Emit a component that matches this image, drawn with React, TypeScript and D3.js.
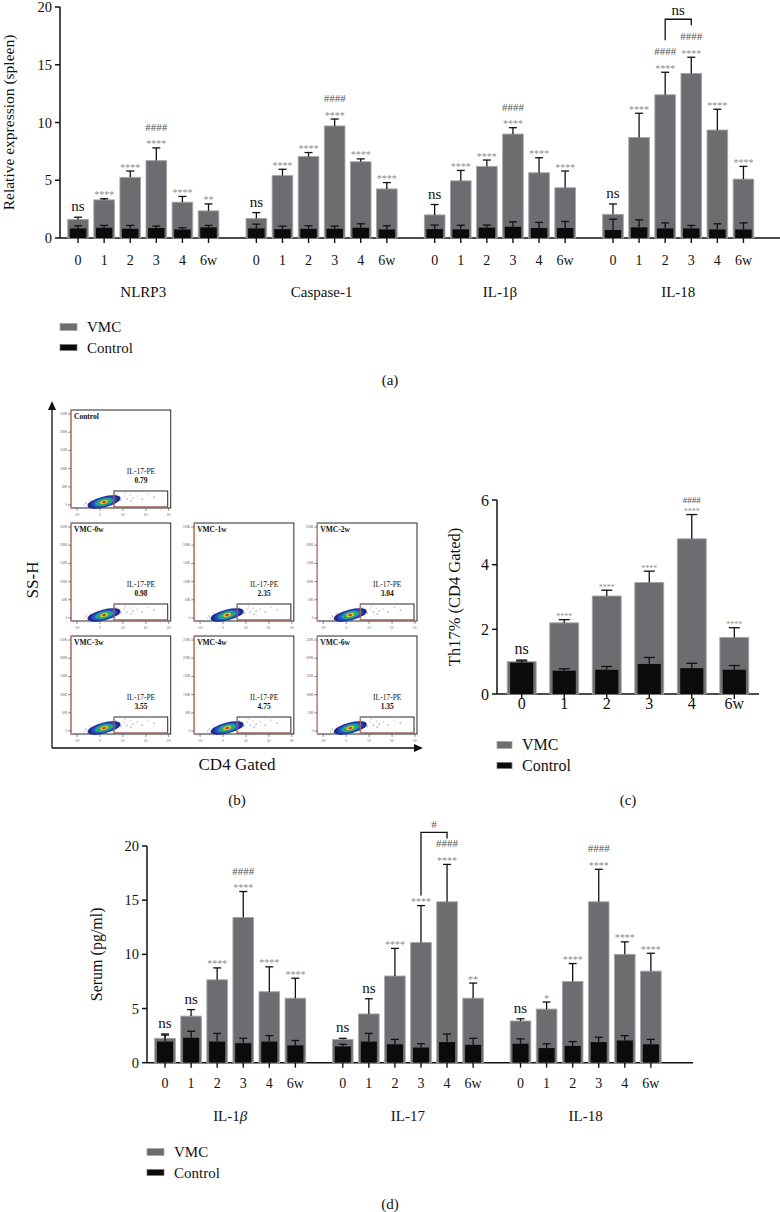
import React from 'react';
import * as d3 from 'd3';

const weeks = ['0', '1', '2', '3', '4', '6w'];

// (a) relative expression in spleen
const genesA = ['NLRP3', 'Caspase-1', 'IL-1β', 'IL-18'];
const vmcA = [
  [1.6, 3.3, 5.25, 6.7, 3.1, 2.35],
  [1.7, 5.4, 7.05, 9.7, 6.6, 4.25],
  [2.0, 4.95, 6.2, 9.0, 5.65, 4.35],
  [2.05, 8.7, 12.4, 14.25, 9.35, 5.1],
];
const vmcErrA = [
  [0.2, 0.1, 0.55, 1.1, 0.5, 0.6],
  [0.5, 0.55, 0.35, 0.6, 0.25, 0.55],
  [0.9, 0.9, 0.55, 0.55, 1.3, 1.45],
  [0.9, 2.1, 1.95, 1.4, 1.8, 1.1],
];
const ctrlA = [
  [0.83, 0.89, 0.8, 0.86, 0.74, 0.92],
  [0.83, 0.77, 0.8, 0.8, 0.89, 0.74],
  [0.77, 0.75, 0.9, 0.97, 0.86, 0.86],
  [0.69, 0.92, 0.83, 0.83, 0.74, 0.74],
];
const ctrlErrA = [
  [0.23, 0.2, 0.29, 0.17, 0.15, 0.17],
  [0.37, 0.26, 0.26, 0.23, 0.34, 0.32],
  [0.35, 0.35, 0.22, 0.43, 0.49, 0.57],
  [0.94, 0.65, 0.48, 0.26, 0.49, 0.57],
];
const starsA = [
  ['ns', '****', '****', '****', '****', '**'],
  ['ns', '****', '****', '****', '****', '****'],
  ['ns', '****', '****', '****', '****', '****'],
  ['ns', '****', '****', '****', '****', '****'],
];
const hashA = [
  ['', '', '', '####', '', ''],
  ['', '', '', '####', '', ''],
  ['', '', '', '####', '', ''],
  ['', '', '####', '####', '', ''],
];
const bracketA = { group: 'IL-18', from: '2', to: '3', label: 'ns' };

// (b) flow cytometry
const flowTitles = ['Control', 'VMC-0w', 'VMC-1w', 'VMC-2w', 'VMC-3w', 'VMC-4w', 'VMC-6w'];
const flowValues = ['0.79', '0.98', '2.35', '3.04', '3.55', '4.75', '1.35'];
const flowRow = [0, 1, 1, 1, 2, 2, 2];
const flowCol = [0, 0, 1, 2, 0, 1, 2];
const flowYTicks = ['0', '50K', '100K', '150K', '200K', '250K'];
const flowXTicks = ['-10³', '0', '10³', '10⁴', '10⁵'];

// (c) Th17 %
const vmcC = [1.0, 2.2, 3.03, 3.45, 4.8, 1.75];
const vmcErrC = [0.05, 0.1, 0.18, 0.35, 0.75, 0.3];
const ctrlC = [0.97, 0.72, 0.75, 0.93, 0.8, 0.75];
const ctrlErrC = [0.05, 0.06, 0.1, 0.2, 0.15, 0.13];
const starsC = ['ns', '****', '****', '****', '****', '****'];
const hashC = ['', '', '', '', '####', ''];

// (d) serum
const cytoD = ['IL-1β', 'IL-17', 'IL-18'];
const vmcD = [
  [2.25, 4.3, 7.65, 13.4, 6.55, 5.95],
  [2.15, 4.5, 8.0, 11.1, 14.85, 5.95],
  [3.85, 4.95, 7.5, 14.85, 10.0, 8.45],
];
const vmcErrD = [
  [0.4, 0.6, 1.1, 2.4, 2.3, 1.85],
  [0.1, 1.4, 2.55, 3.4, 3.45, 1.4],
  [0.2, 0.65, 1.65, 3.0, 1.15, 1.65],
];
const ctrlD = [
  [1.95, 2.3, 1.95, 1.8, 1.95, 1.6],
  [1.5, 1.95, 1.7, 1.4, 1.9, 1.65],
  [1.75, 1.35, 1.55, 1.9, 2.05, 1.7],
];
const ctrlErrD = [
  [0.6, 0.6, 0.75, 0.45, 0.55, 0.45],
  [0.2, 0.75, 0.45, 0.35, 0.75, 0.6],
  [0.45, 0.4, 0.4, 0.45, 0.45, 0.45],
];
const starsD = [
  ['ns', 'ns', '****', '****', '****', '****'],
  ['ns', 'ns', '****', '****', '****', '**'],
  ['ns', '*', '****', '****', '****', '****'],
];
const hashD = [
  ['', '', '', '####', '', ''],
  ['', '', '', '', '####', ''],
  ['', '', '', '####', '', ''],
];
const bracketD = { group: 'IL-17', from: '3', to: '4', label: '#' };

const FONT = '"Liberation Serif", "Times New Roman", serif';
const VMC_FILL = '#6c6d71';
const VMC_EDGE = '#a5a6a8';
const CTRL_FILL = '#0b0b0b';
const STAR = '#8c8c8c';
const HASH = '#555';
const INK = '#111';

function Bars({ centers, bw, cw, y, vmc, vmcErr, ctrl, ctrlErr, stars, hashes, cap, starFs, hashFs, hashOff, nsFs }: any) {
  const y0 = y(0);
  return (
    <g>
      {centers.map((x: number, i: number) => {
        const vTop = y(vmc[i]);
        const vCap = y(vmc[i] + vmcErr[i]);
        const cTop = y(ctrl[i]);
        const cCap = y(ctrl[i] + ctrlErr[i]);
        const top = Math.min(vCap, cCap);
        const s = stars[i];
        return (
          <g key={i}>
            <rect x={x - bw / 2} y={vTop} width={bw} height={y0 - vTop} fill={VMC_FILL} stroke={VMC_EDGE} strokeWidth={0.9} />
            <line x1={x} x2={x} y1={vTop} y2={vCap} stroke={INK} strokeWidth={1.3} />
            <line x1={x - cap / 2} x2={x + cap / 2} y1={vCap} y2={vCap} stroke={INK} strokeWidth={1.3} />
            <rect x={x - cw / 2} y={cTop} width={cw} height={y0 - cTop} fill={CTRL_FILL} />
            <line x1={x} x2={x} y1={cTop} y2={cCap} stroke={INK} strokeWidth={1.3} />
            <line x1={x - cap / 2} x2={x + cap / 2} y1={cCap} y2={cCap} stroke={INK} strokeWidth={1.3} />
            {s === 'ns' ? (
              <text x={x} y={top - 6} fontSize={nsFs} textAnchor="middle" fill={INK}>ns</text>
            ) : (
              <text x={x} y={top - 0.5} fontSize={starFs} textAnchor="middle" fill={STAR}>{s}</text>
            )}
            {hashes[i] && (
              <text x={x} y={top - hashOff} fontSize={hashFs} textAnchor="middle" fill={HASH}>{hashes[i]}</text>
            )}
          </g>
        );
      })}
    </g>
  );
}

function Bracket({ x1, x2, e1, e2, label, fs, color }: any) {
  const yb = Math.min(e1, e2) - 6;
  return (
    <g>
      <path d={`M${x1},${e1}V${yb}H${x2}V${e2}`} fill="none" stroke={INK} strokeWidth={1.3} />
      <text x={(x1 + x2) / 2} y={yb - 4} fontSize={fs} textAnchor="middle" fill={color}>{label}</text>
    </g>
  );
}

function Legend({ x, y, fs, sw }: any) {
  return (
    <g fontSize={fs} fill={INK}>
      <rect x={x} y={y - 3.5} width={sw} height={7} fill={VMC_FILL} stroke={VMC_EDGE} strokeWidth={0.8} />
      <text x={x + sw + 10} y={y + 5}>VMC</text>
      <rect x={x} y={y + 17.5} width={sw} height={6} fill={CTRL_FILL} stroke="#777" strokeWidth={0.8} />
      <text x={x + sw + 10} y={y + 26}>Control</text>
    </g>
  );
}

function YAxis({ x, y, ticks, fs }: any) {
  const [r0, r1] = y.range();
  return (
    <g>
      <line x1={x} x2={x} y1={r0} y2={r1} stroke={INK} strokeWidth={1.5} />
      {ticks.map((t: number) => (
        <g key={t}>
          <line x1={x - 5} x2={x} y1={y(t)} y2={y(t)} stroke={INK} strokeWidth={1.5} />
          <text x={x - 8} y={y(t) + fs * 0.35} fontSize={fs} textAnchor="end" fill={INK}>{t}</text>
        </g>
      ))}
    </g>
  );
}

// decorative scatter around the dense event cloud (offsets)
const sparseDx = [-18, -14, -11, 14, 17, 20, 23, 26, 29, 33, 38, 44, 50, -20, 12, 21, 27];
const sparseDy = [1, -2, 2, -5, -2, -6, -3, -7, -4, -6, -3, -8, -5, 3, -7, -9, -1];
const cloudLayers = [
  { rx: 17, ry: 5.5, c: '#1d2b8f' },
  { rx: 13, ry: 4.6, c: '#2a50c0' },
  { rx: 9.5, ry: 3.6, c: '#1c9fb0' },
  { rx: 6.8, ry: 2.8, c: '#2fae4a' },
  { rx: 4, ry: 1.9, c: '#d8d23a' },
  { rx: 2.2, ry: 1.1, c: '#e0342c' },
];

function FlowPlot({ x, y, w, h, title, value }: any) {
  const bottom = y + h;
  const yt = d3.scaleLinear().domain([0, flowYTicks.length - 1]).range([bottom - 3, y + 4]);
  const xt = d3.scaleLinear().domain([0, flowXTicks.length - 1]).range([x + 6, x + w - 2]);
  const cx = x + 33;
  const cy = bottom - 6;
  const gx = x + 43;
  return (
    <g>
      <rect x={x} y={y} width={w} height={h} fill="#fff" stroke={INK} strokeWidth={0.9} />
      <line x1={x} x2={x} y1={y} y2={bottom} stroke="#de8877" strokeWidth={1.3} />
      {d3.range(y + 2, bottom, 3.2).map((v) => (
        <line key={v} x1={x - 1.5} x2={x} y1={v} y2={v} stroke="#999" strokeWidth={0.4} />
      ))}
      {flowYTicks.map((t, k) => (
        <g key={t}>
          <line x1={x - 3} x2={x} y1={yt(k)} y2={yt(k)} stroke="#444" strokeWidth={0.6} />
          <text x={x - 4} y={yt(k) + 1} fontSize={3.2} textAnchor="end" fill="#555">{t}</text>
        </g>
      ))}
      {d3.range(x + 2, x + w, 3.5).map((v) => (
        <line key={v} x1={v} x2={v} y1={bottom} y2={bottom + 1.5} stroke="#999" strokeWidth={0.4} />
      ))}
      {flowXTicks.map((t, k) => (
        <g key={t}>
          <line x1={xt(k)} x2={xt(k)} y1={bottom} y2={bottom + 3} stroke="#444" strokeWidth={0.6} />
          <text x={xt(k)} y={bottom + 8} fontSize={3.2} textAnchor="middle" fill="#555">{t}</text>
        </g>
      ))}
      {sparseDx.map((dx, k) => (
        <circle key={k} cx={cx + dx} cy={cy + sparseDy[k]} r={0.6} fill={k % 2 ? '#e46fa0' : '#2a3fbf'} />
      ))}
      <g transform={`translate(${cx},${cy}) rotate(-14)`}>
        {cloudLayers.map((l) => (
          <ellipse key={l.c} rx={l.rx} ry={l.ry} fill={l.c} />
        ))}
      </g>
      <rect x={gx} y={bottom - 17} width={x + w - 3 - gx} height={16} fill="none" stroke={INK} strokeWidth={0.9} />
      <path d={`M${gx},${bottom - 17}V${bottom - 1}H${x + w - 3}`} fill="none" stroke="#de8877" strokeWidth={0.9} />
      <text x={x + 3} y={y + 9} fontSize={7.5} fontWeight="bold" fill={INK}>{title}</text>
      <text x={x + 70} y={y + 64} fontSize={7.5} textAnchor="middle" fill={INK}>IL-17-PE</text>
      <text x={x + 70} y={y + 73} fontSize={7.5} textAnchor="middle" fontWeight="bold" fill={INK}>{value}</text>
    </g>
  );
}

export default function App() {
  // panel (a)
  const yA = d3.scaleLinear().domain([0, 20]).range([238, 7]);
  const gA = d3.scaleBand<string>().domain(genesA).range([65, 756.5]).paddingInner(0.122);
  const wA = d3.scaleBand<string>().domain(weeks).range([0, gA.bandwidth()]).paddingInner(0.21).paddingOuter(0.105);
  const cxA = (g: string, w: string) => (gA(g) as number) + (wA(w) as number) + wA.bandwidth() / 2;

  // panel (c)
  const yC = d3.scaleLinear().domain([0, 6]).range([694, 500]);
  const xC = d3.scaleBand<string>().domain(weeks).range([497, 759]).paddingInner(0.32).paddingOuter(0.241);
  const cxC = (w: string) => (xC(w) as number) + xC.bandwidth() / 2;

  // panel (d)
  const yD = d3.scaleLinear().domain([0, 20]).range([1062.7, 846]);
  const gD = d3.scaleBand<string>().domain(cytoD).range([152, 663.9]).paddingInner(0.12);
  const wD = d3.scaleBand<string>().domain(weeks).range([0, gD.bandwidth()]).paddingInner(0.21).paddingOuter(0.105);
  const cxD = (g: string, w: string) => (gD(g) as number) + (wD(w) as number) + wD.bandwidth() / 2;

  // panel (b) grid
  const colB = d3.scaleBand<number>().domain([0, 1, 2]).range([71, 417]).paddingInner(0.19);
  const rowB = d3.scaleBand<number>().domain([0, 1, 2]).range([410, 734]).paddingInner(0.133);

  const legEnd = (y: any, v: number[], ve: number[], c: number[], ce: number[], hs: string[], i: number, big: number, small: number) =>
    Math.min(y(v[i] + ve[i]), y(c[i] + ce[i])) - (hs[i] ? big : small);

  const ia = genesA.indexOf(bracketA.group);
  const fa = weeks.indexOf(bracketA.from);
  const ta = weeks.indexOf(bracketA.to);
  const id = cytoD.indexOf(bracketD.group);
  const fd = weeks.indexOf(bracketD.from);
  const td = weeks.indexOf(bracketD.to);

  return (
    <svg
      width={780}
      height={1212}
      viewBox="0 0 780 1212"
      style={{ position: 'absolute', left: 0, top: 0, background: '#fff' }}
      fontFamily={FONT}
      fill={INK}
    >
      {/* ---------- (a) ---------- */}
      <text transform={`translate(14,${(yA(0) + yA(20)) / 2}) rotate(-90)`} fontSize={15.5} textAnchor="middle">
        Relative expression (spleen)
      </text>
      <YAxis x={60} y={yA} ticks={[0, 5, 10, 15, 20]} fs={14.5} />
      <line x1={60} x2={780} y1={yA(0)} y2={yA(0)} stroke={INK} strokeWidth={1.5} />
      {genesA.map((g, gi) => (
        <g key={g}>
          <Bars
            centers={weeks.map((w) => cxA(g, w))}
            bw={wA.bandwidth()}
            cw={wA.bandwidth() * 0.8}
            y={yA}
            vmc={vmcA[gi]}
            vmcErr={vmcErrA[gi]}
            ctrl={ctrlA[gi]}
            ctrlErr={ctrlErrA[gi]}
            stars={starsA[gi]}
            hashes={hashA[gi]}
            cap={8}
            starFs={10}
            hashFs={11}
            hashOff={17}
            nsFs={15}
          />
          {weeks.map((w) => (
            <g key={w}>
              <line x1={cxA(g, w)} x2={cxA(g, w)} y1={yA(0)} y2={yA(0) + 5} stroke={INK} strokeWidth={1.4} />
              <text x={cxA(g, w)} y={265} fontSize={14} textAnchor="middle">{w}</text>
            </g>
          ))}
          <text x={(gA(g) as number) + gA.bandwidth() / 2} y={297} fontSize={15} textAnchor="middle">{g}</text>
        </g>
      ))}
      <Bracket
        x1={cxA(bracketA.group, bracketA.from)}
        x2={cxA(bracketA.group, bracketA.to)}
        e1={legEnd(yA, vmcA[ia], vmcErrA[ia], ctrlA[ia], ctrlErrA[ia], hashA[ia], fa, 32, 10)}
        e2={legEnd(yA, vmcA[ia], vmcErrA[ia], ctrlA[ia], ctrlErrA[ia], hashA[ia], ta, 32, 10)}
        label={bracketA.label}
        fs={15}
        color={INK}
      />
      <Legend x={60} y={327} fs={15} sw={17} />
      <text x={390} y={385} fontSize={15} textAnchor="middle">(a)</text>

      {/* ---------- (b) ---------- */}
      <line x1={52} x2={52} y1={748} y2={408} stroke={INK} strokeWidth={1.3} />
      <path d="M52,401L48,410L56,410Z" fill={INK} />
      <line x1={52} x2={415} y1={748} y2={748} stroke={INK} strokeWidth={1.3} />
      <path d="M423,748L414,744L414,752Z" fill={INK} />
      {flowTitles.map((t, k) => (
        <FlowPlot
          key={t}
          x={colB(flowCol[k])}
          y={rowB(flowRow[k])}
          w={colB.bandwidth()}
          h={rowB.bandwidth()}
          title={t}
          value={flowValues[k]}
        />
      ))}
      <text transform="translate(38,580) rotate(-90)" fontSize={17} textAnchor="middle">SS-H</text>
      <text x={237} y={770} fontSize={17} textAnchor="middle">CD4 Gated</text>
      <text x={237} y={805} fontSize={15} textAnchor="middle">(b)</text>

      {/* ---------- (c) ---------- */}
      <text transform={`translate(460,${(yC(0) + yC(6)) / 2}) rotate(-90)`} fontSize={16.5} textAnchor="middle">
        Th17% (CD4 Gated)
      </text>
      <YAxis x={497} y={yC} ticks={[0, 2, 4, 6]} fs={16} />
      <line x1={497} x2={759} y1={yC(0)} y2={yC(0)} stroke={INK} strokeWidth={1.5} />
      <Bars
        centers={weeks.map(cxC)}
        bw={xC.bandwidth()}
        cw={xC.bandwidth() * 0.8}
        y={yC}
        vmc={vmcC}
        vmcErr={vmcErrC}
        ctrl={ctrlC}
        ctrlErr={ctrlErrC}
        stars={starsC}
        hashes={hashC}
        cap={11}
        starFs={8}
        hashFs={9}
        hashOff={12}
        nsFs={16}
      />
      {weeks.map((w) => (
        <g key={w}>
          <line x1={cxC(w)} x2={cxC(w)} y1={yC(0)} y2={yC(0) + 5} stroke={INK} strokeWidth={1.4} />
          <text x={cxC(w)} y={709} fontSize={16} textAnchor="middle">{w}</text>
        </g>
      ))}
      <Legend x={497} y={745} fs={16} sw={15} />
      <text x={628} y={805} fontSize={15} textAnchor="middle">(c)</text>

      {/* ---------- (d) ---------- */}
      <text transform={`translate(102,${(yD(0) + yD(20)) / 2}) rotate(-90)`} fontSize={16} textAnchor="middle">
        Serum (pg/ml)
      </text>
      <YAxis x={147} y={yD} ticks={[0, 5, 10, 15, 20]} fs={14.5} />
      <line x1={147} x2={693} y1={yD(0)} y2={yD(0)} stroke={INK} strokeWidth={1.5} />
      {cytoD.map((g, gi) => (
        <g key={g}>
          <Bars
            centers={weeks.map((w) => cxD(g, w))}
            bw={wD.bandwidth()}
            cw={wD.bandwidth() * 0.78}
            y={yD}
            vmc={vmcD[gi]}
            vmcErr={vmcErrD[gi]}
            ctrl={ctrlD[gi]}
            ctrlErr={ctrlErrD[gi]}
            stars={starsD[gi]}
            hashes={hashD[gi]}
            cap={8}
            starFs={10}
            hashFs={11}
            hashOff={17}
            nsFs={15}
          />
          {weeks.map((w) => (
            <g key={w}>
              <line x1={cxD(g, w)} x2={cxD(g, w)} y1={yD(0)} y2={yD(0) + 5} stroke={INK} strokeWidth={1.4} />
              <text x={cxD(g, w)} y={1088} fontSize={14} textAnchor="middle">{w}</text>
            </g>
          ))}
          <text x={(gD(g) as number) + gD.bandwidth() / 2} y={1121} fontSize={15} textAnchor="middle">
            {g.endsWith('β') ? (
              <>
                {g.slice(0, -1)}
                <tspan fontStyle="italic">β</tspan>
              </>
            ) : (
              g
            )}
          </text>
        </g>
      ))}
      <Bracket
        x1={cxD(bracketD.group, bracketD.from)}
        x2={cxD(bracketD.group, bracketD.to)}
        e1={legEnd(yD, vmcD[id], vmcErrD[id], ctrlD[id], ctrlErrD[id], hashD[id], fd, 26, 10)}
        e2={legEnd(yD, vmcD[id], vmcErrD[id], ctrlD[id], ctrlErrD[id], hashD[id], td, 26, 10)}
        label={bracketD.label}
        fs={11}
        color={HASH}
      />
      <Legend x={147} y={1152} fs={15} sw={17} />
      <text x={390} y={1209} fontSize={15} textAnchor="middle">(d)</text>
    </svg>
  );
}
